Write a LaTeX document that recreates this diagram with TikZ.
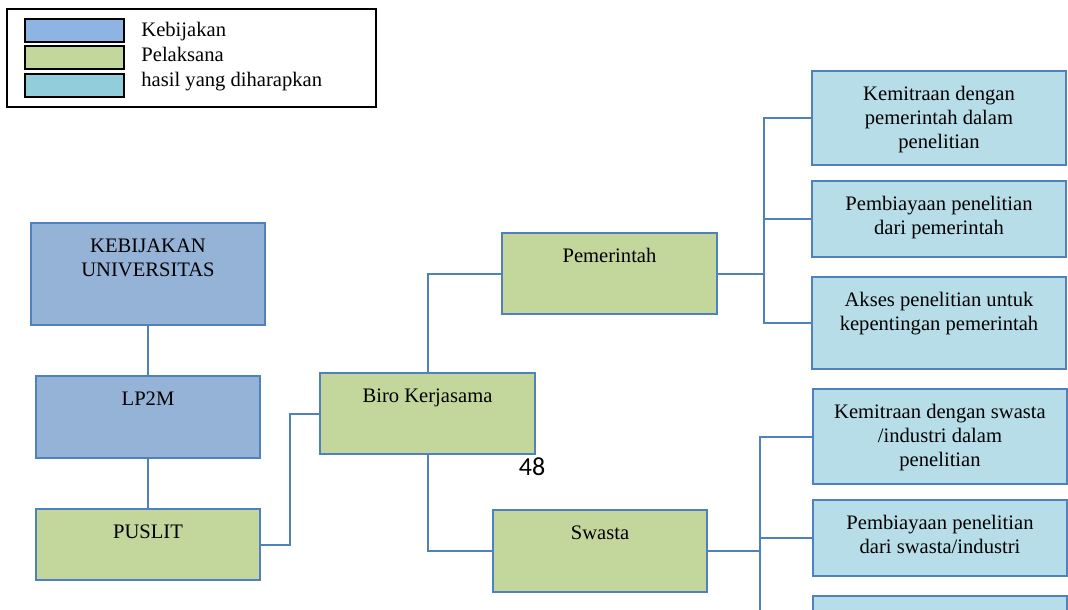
\documentclass[tikz,border=0pt]{standalone}
\usepackage{fontspec}
\setmainfont{Liberation Serif}
\newfontfamily\angkafont{Carlito}
\usepackage{tikz}
\usetikzlibrary{positioning,calc}

\definecolor{garis}{HTML}{4F81BD}
\definecolor{biru}{HTML}{95B3D7}
\definecolor{hijau}{HTML}{C3D69B}
\definecolor{tosca}{HTML}{B7DEE8}
\definecolor{birulgd}{HTML}{8DB4E2}
\definecolor{toscalgd}{HTML}{92CDDC}

\begin{document}
\begin{tikzpicture}[x=0.5pt,y=-0.5pt,
	teks/.style={font=\fontsize{10.3pt}{12pt}\selectfont},
	kotak/.style={draw=garis, line width=1pt, inner sep=0pt, outer sep=0pt},
	isi/.style={teks, anchor=north, yshift=-7.5pt, align=center, inner sep=0pt},
	kebijakan/.style={kotak, fill=biru},
	pelaksana/.style={kotak, fill=hijau},
	hasil/.style={kotak, fill=tosca, minimum width=127pt},
	contoh/.style={draw=black, line width=1pt, minimum width=49.5pt, minimum height=11.5pt, inner sep=0pt},
	hubung/.style={draw=garis, line width=1pt}]
	%Page size (pixels of the original figure)%
	%===========================================================
	\useasboundingbox (0,0) rectangle (1068,609);
	\clip (0,0) rectangle (1068,609);
	%Legend%
	%===========================================================
	\node[draw=black, line width=0.9pt, minimum width=184.5pt, minimum height=49pt] (legenda) at (191.5,58) {};
	\node[contoh, fill=birulgd] (lgdbiru) at (74.5,30.5) {}; %Kebijakan
	\node[contoh, fill=hijau] (lgdhijau) at (74.5,58) {}; %Pelaksana
	\node[contoh, fill=toscalgd] (lgdtosca) at (74.5,85.5) {}; %hasil
	\node[teks, anchor=base west, inner sep=0pt] (tkbiru) at (141,37) {Kebijakan};
	\node[teks, anchor=base west, inner sep=0pt] (tkhijau) at (141,62) {Pelaksana};
	\node[teks, anchor=base west, inner sep=0pt] (tktosca) at (141,87) {hasil yang diharapkan};
	%Left column%
	%===========================================================
	\node[kebijakan, minimum width=117pt, minimum height=51pt, label={[isi]north:{KEBIJAKAN\\UNIVERSITAS}}] (univ) at (148,274) {};
	\node[kebijakan, minimum width=112pt, minimum height=41pt, label={[isi]north:{LP2M}}] (lppm) at (148,417) {};
	\node[pelaksana, minimum width=112pt, minimum height=35.5pt, label={[isi]north:{PUSLIT}}] (puslit) at (148,544.5) {};
	%Middle column%
	%===========================================================
	\node[pelaksana, minimum width=107.5pt, minimum height=40.5pt, label={[isi]north:{Biro Kerjasama}}] (biro) at (427.5,413.5) {};
	\node[pelaksana, minimum width=107.5pt, minimum height=40.5pt, label={[isi]north:{Pemerintah}}] (pemerintah) at (609.5,273.5) {};
	\node[pelaksana, minimum width=107pt, minimum height=41pt, label={[isi]north:{Swasta}}] (swasta) at (600,551) {};
	\node[font=\angkafont\fontsize{13pt}{15pt}\selectfont, inner sep=0pt] (halaman) at (532,467) {48}; %page number
	%Expected results%
	%===========================================================
	\node[hasil, minimum height=47pt, label={[isi]north:{Kemitraan dengan\\pemerintah dalam\\penelitian}}] (hp1) at (939,118) {};
	\node[hasil, minimum height=38pt, label={[isi]north:{Pembiayaan penelitian\\dari pemerintah}}] (hp2) at (939,219) {};
	\node[hasil, minimum height=46pt, label={[isi]north:{Akses penelitian untuk\\kepentingan pemerintah}}] (hp3) at (939,323) {};
	\node[hasil, minimum height=47.5pt, label={[isi]north:{Kemitraan dengan swasta\\/industri dalam\\penelitian}}] (hs1) at (940,436.5) {};
	\node[hasil, minimum height=38pt, label={[isi]north:{Pembiayaan penelitian\\dari swasta/industri}}] (hs2) at (940,538) {};
	\node[hasil, minimum height=47pt] (hs3) at (940,643) {}; %cut off by the page
	%Connectors%
	%===========================================================
	\draw[hubung] (univ) -- (lppm);
	\draw[hubung] (lppm) -- (puslit);
	\draw[hubung] (puslit.east) -- ++(30,0) |- (biro.west);
	\draw[hubung] (biro.north) |- (pemerintah.west);
	\draw[hubung] (biro.south) |- (swasta.west);
	\draw[hubung] (pemerintah.east) -- ++(47,0) coordinate (cabangp); %branch point pemerintah
	\foreach \h in {hp1,hp2,hp3}
		\draw[hubung] (cabangp) |- (\h.west);
	\draw[hubung] (swasta.east) -- ++(53,0) coordinate (cabangs); %branch point swasta
	\foreach \h in {hs1,hs2,hs3}
		\draw[hubung] (cabangs) |- (\h.west);
\end{tikzpicture}
\end{document}
